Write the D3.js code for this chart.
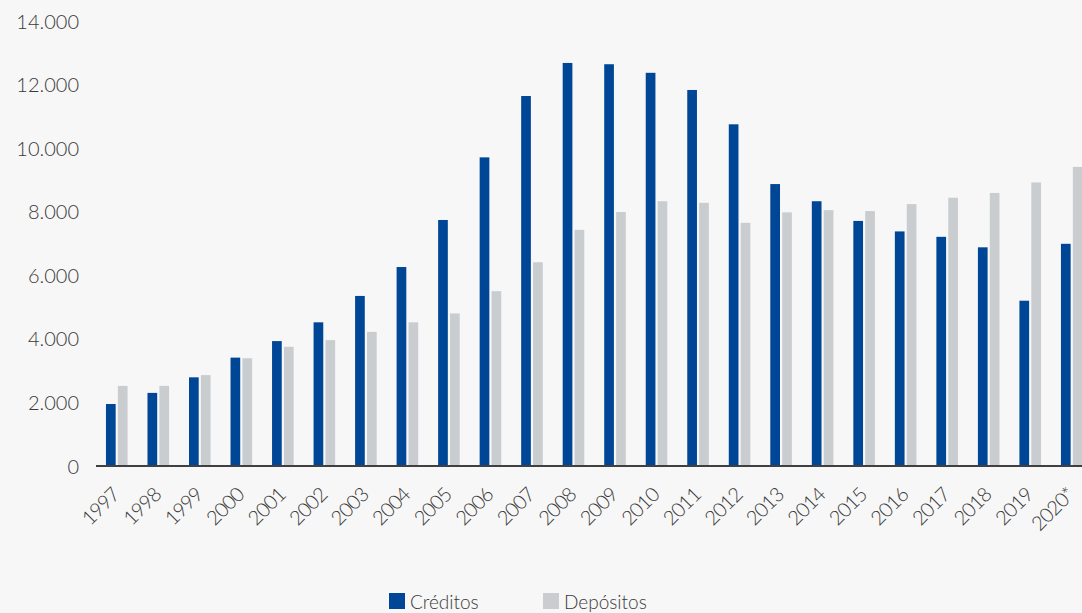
<!DOCTYPE html>
<html>
<head>
<meta charset="utf-8">
<script src="https://cdn.jsdelivr.net/npm/d3@7/dist/d3.min.js"></script>
<style>
  html, body { margin: 0; padding: 0; background: #f7f7f7; }
  svg { display: block; }
  text { font-family: "Lato", "Open Sans", sans-serif; font-weight: 300; fill: #3a3a3a; }
</style>
</head>
<body>
<svg id="chart" width="1082" height="613"></svg>
<script>
// Annual totals (millions)
const years = ["1997","1998","1999","2000","2001","2002","2003","2004","2005","2006","2007","2008",
               "2009","2010","2011","2012","2013","2014","2015","2016","2017","2018","2019","2020*"];
const creditos = [1950, 2300, 2790, 3410, 3930, 4520, 5350, 6260, 7740, 9710, 11640, 12680,
                  12640, 12370, 11830, 10750, 8870, 8330, 7710, 7380, 7210, 6880, 5200, 6990];
const depositos = [2520, 2520, 2860, 3390, 3750, 3960, 4220, 4520, 4800, 5500, 6410, 7430,
                   7990, 8330, 8280, 7650, 7980, 8050, 8020, 8240, 8440, 8590, 8920, 9410];
const seriesNames = ["Créditos", "Depósitos"];
const seriesColors = ["#004696", "#c9cdd0"];
const yTicks = [0, 2000, 4000, 6000, 8000, 10000, 12000, 14000];

const svg = d3.select("#chart");
const plotLeft = 96, plotRight = 1092.5, plotTop = 21, plotBottom = 466;

const x0 = d3.scaleBand().domain(years).range([plotLeft, plotRight]).paddingInner(0.48).paddingOuter(0.24);
const x1 = d3.scaleBand().domain(seriesNames).range([0, x0.bandwidth()]).paddingInner(0.185);
const y = d3.scaleLinear().domain([0, 14000]).range([plotBottom, plotTop]);

const fmt = v => d3.format(",")(v).replace(/,/g, ".");

// y-axis labels (no line, no ticks)
const yAxis = d3.axisLeft(y).tickValues(yTicks).tickFormat(fmt).tickSize(0).tickPadding(0);
const gy = svg.append("g").attr("transform", `translate(${79},0)`).call(yAxis);
gy.select(".domain").remove();
gy.selectAll("text").attr("font-size", 20).attr("font-family", null).attr("dy", "0.35em");

// bars
const rows = years.map((yr, i) => ({ yr, vals: [creditos[i], depositos[i]] }));
const groups = svg.append("g").selectAll("g").data(rows).join("g")
  .attr("transform", d => `translate(${x0(d.yr)},0)`);
groups.selectAll("rect").data(d => d.vals.map((v, k) => ({ v, k })))
  .join("rect")
  .attr("x", d => x1(seriesNames[d.k]))
  .attr("width", x1.bandwidth())
  .attr("y", d => y(d.v))
  .attr("height", d => y(0) - y(d.v))
  .attr("fill", d => seriesColors[d.k]);

// x axis baseline and rotated year labels
const xAxis = d3.axisBottom(x0).tickSize(0).tickPadding(0);
const gx = svg.append("g").attr("transform", `translate(0,${plotBottom})`).call(xAxis);
gx.select(".domain").attr("stroke", "#404040").attr("stroke-width", 2)
  .attr("d", `M${plotLeft},0H${plotRight}`);
gx.selectAll(".tick text")
  .attr("font-size", 20).attr("font-family", null)
  .attr("letter-spacing", "-0.8px")
  .attr("text-anchor", "end")
  .attr("dy", "0")
  .attr("transform", "translate(4,30) rotate(-45)");

// legend
const legend = svg.append("g");
const legendX = [389, 543];
seriesNames.forEach((name, k) => {
  legend.append("rect").attr("x", legendX[k]).attr("y", 593).attr("width", 16).attr("height", 16)
    .attr("fill", seriesColors[k]);
  legend.append("text").attr("x", legendX[k] + 21).attr("y", 609)
    .attr("font-size", 19).text(name);
});
</script>
</body>
</html>
